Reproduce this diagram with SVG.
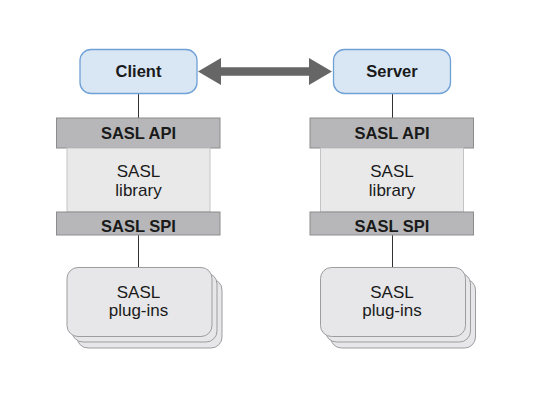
<svg xmlns="http://www.w3.org/2000/svg" width="537" height="408" viewBox="0 0 537 408">
<style>
.bg{fill:#ffffff}
.ep{fill:#d9e7f5;stroke:#6fa0d6;stroke-width:1.3}
.bar{fill:#b7b7b9;stroke:#8c8c8e;stroke-width:1}
.lib{fill:#e9e9ea;stroke:#c4c4c6;stroke-width:1}
.pl{fill:#e7e7e9;stroke:#9d9d9f;stroke-width:1}
.ln{stroke:#333;stroke-width:1;fill:none}
.b{font-family:"Liberation Sans",Arial,sans-serif;font-weight:bold;font-size:16.5px;fill:#1a1a1a;text-anchor:middle}
.r{font-family:"Liberation Sans",Arial,sans-serif;font-size:17px;fill:#1a1a1a;text-anchor:middle}
</style>
<rect class="bg" width="537" height="408"/>
<g id="connectors">
<line class="ln" x1="138.5" y1="93" x2="138.5" y2="118"/>
<line class="ln" x1="138.5" y1="235" x2="138.5" y2="268"/>
<line class="ln" x1="392.5" y1="93" x2="392.5" y2="118"/>
<line class="ln" x1="392.5" y1="235" x2="392.5" y2="268"/>
<polygon fill="#666666" points="198,71.5 221,58 221,67.3 309,67.3 309,58 332,71.5 309,85 309,75.7 221,75.7 221,85"/>
</g>
<g id="client">
<rect class="ep" x="80" y="49.5" width="117" height="44" rx="11"/>
<text class="b" x="138.5" y="76.5">Client</text>
</g>
<g id="client-api">
<rect class="bar" x="56.5" y="118" width="163.5" height="30"/>
<text class="b" x="138.5" y="138.5">SASL API</text>
</g>
<g id="client-lib">
<rect class="lib" x="67" y="148" width="143" height="64"/>
<text class="r" x="138.5" y="177">SASL</text>
<text class="r" x="138.5" y="195.5">library</text>
</g>
<g id="client-spi">
<rect class="bar" x="56.5" y="212" width="163.5" height="23"/>
<text class="b" x="138.5" y="232">SASL SPI</text>
</g>
<g id="client-plugins">
<rect class="pl" x="77" y="279" width="145" height="69" rx="11"/>
<rect class="pl" x="72" y="273" width="145" height="69" rx="11"/>
<rect class="pl" x="67" y="267.5" width="145" height="69" rx="11"/>
<text class="r" x="138.5" y="297.5">SASL</text>
<text class="r" x="138.5" y="316">plug-ins</text>
</g>
<g id="server">
<rect class="ep" x="333.5" y="49.5" width="117" height="44" rx="11"/>
<text class="b" x="392" y="76.5">Server</text>
</g>
<g id="server-api">
<rect class="bar" x="310" y="118" width="163.5" height="30"/>
<text class="b" x="392" y="138.5">SASL API</text>
</g>
<g id="server-lib">
<rect class="lib" x="320.5" y="148" width="143" height="64"/>
<text class="r" x="392" y="177">SASL</text>
<text class="r" x="392" y="195.5">library</text>
</g>
<g id="server-spi">
<rect class="bar" x="310" y="212" width="163.5" height="23"/>
<text class="b" x="392" y="232">SASL SPI</text>
</g>
<g id="server-plugins">
<rect class="pl" x="330.5" y="279" width="145" height="69" rx="11"/>
<rect class="pl" x="325.5" y="273" width="145" height="69" rx="11"/>
<rect class="pl" x="320.5" y="267.5" width="145" height="69" rx="11"/>
<text class="r" x="392" y="297.5">SASL</text>
<text class="r" x="392" y="316">plug-ins</text>
</g>
</svg>
